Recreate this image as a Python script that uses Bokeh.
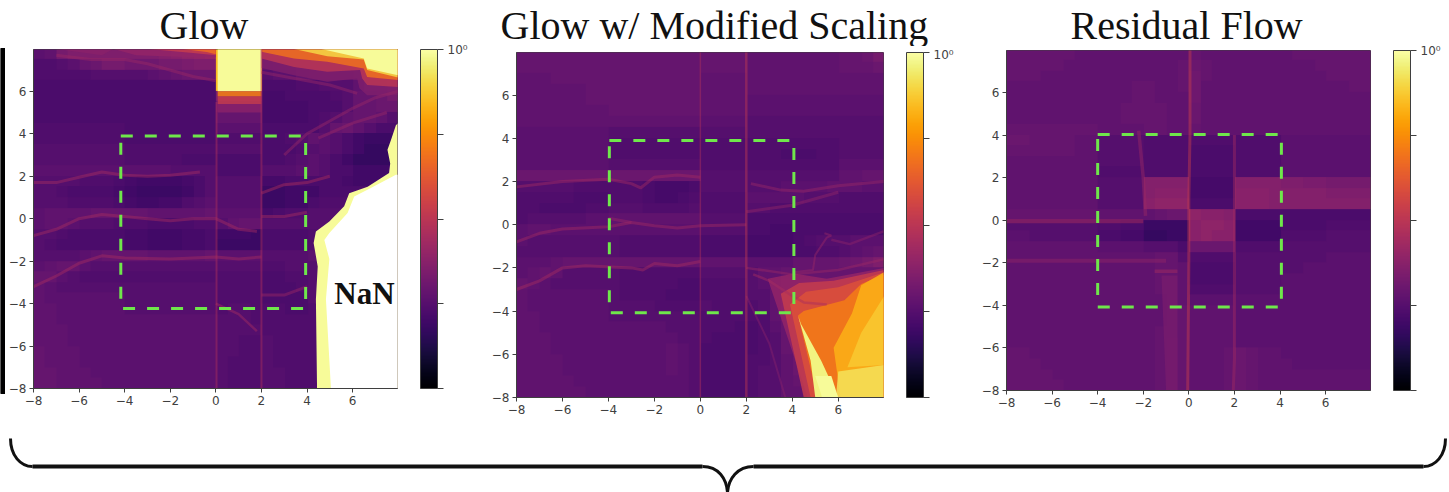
from bokeh.embed import file_html
from bokeh.resources import INLINE
from bokeh.plotting import figure
from bokeh.layouts import row, column
from bokeh.models import (ColorBar, ColumnDataSource, CustomJSTickFormatter, FixedTicker, LogColorMapper, Range1d)
from bokeh.palettes import Inferno256
from bokeh.core.properties import value
import numpy as np

TITLES = ["Glow", "Glow w/ Modified Scaling", "Residual Flow"]
TICKS = [-8, -6, -4, -2, 0, 2, 4, 6]
CB_TICKS = [1, 1e-2, 1e-4, 1e-6, 1e-8]

# Grids: rows top (y=8) to bottom (y=-8), 32 columns from x=-8 in steps of 0.5.
# Each number n means a density of 10^(-(n+2)/10).
GLOW = [
 [57,56,52,50,50,50,50,50,50,50,50,49,48,47,46,45,10,10,10,10,48,48,48,48,48,48,47,47,47,30,20,20],
 [59,59,58,57,55,54,52,52,53,53,53,52,52,51,50,50,10,10,10,10,55,54,53,52,52,52,50,50,50,40,30,30],
 [59,59,59,59,59,58,58,58,58,58,57,56,55,54,54,54,10,10,10,10,58,57,57,55,54,54,53,53,52,45,40,40],
 [60,60,60,60,60,60,60,60,60,60,60,60,60,60,60,60,10,10,10,10,60,60,60,59,59,58,58,58,56,52,52,50],
 [60,60,60,60,60,60,60,60,60,60,60,60,60,60,60,60,50,50,50,50,61,61,60,60,60,60,59,58,55,55,54,52],
 [60,60,60,60,60,60,60,60,60,60,60,60,60,60,60,60,53,53,53,53,61,61,61,61,60,60,60,58,55,55,54,54],
 [60,60,60,60,60,60,60,60,60,60,60,60,60,60,60,60,55,55,55,55,61,61,61,61,60,59,58,56,55,55,56,58],
 [59,59,59,59,59,59,59,59,60,60,60,60,60,60,60,60,57,57,57,57,60,60,60,60,60,58,55,54,56,58,60,60],
 [59,59,59,59,59,59,59,59,60,60,60,60,60,60,60,60,59,59,59,59,60,60,59,58,56,57,58,60,62,63,63,63],
 [58,58,58,58,58,58,58,58,59,59,59,59,59,59,59,59,58,58,58,58,60,60,60,59,58,57,58,60,62,64,64,64],
 [58,58,58,58,58,58,58,58,59,59,59,59,59,60,60,60,60,60,60,60,60,60,59,58,57,58,60,62,64,64,64,64],
 [57,57,57,57,57,57,57,57,57,57,57,57,58,58,58,58,60,60,60,60,58,58,58,57,57,58,60,60,62,62,62,62],
 [58,58,58,58,59,59,59,60,61,62,62,62,62,61,60,58,58,58,58,58,61,61,60,60,60,60,60,61,62,62,62,62],
 [58,58,59,60,60,60,60,61,62,63,63,63,63,62,60,58,58,58,58,58,63,63,62,62,62,60,60,60,60,60,60,60],
 [58,58,58,59,59,59,59,60,61,62,62,61,61,59,58,57,58,58,58,58,63,63,62,62,60,59,59,59,59,59,59,59],
 [57,56,56,56,56,55,55,55,55,55,56,56,56,56,56,55,57,57,57,57,61,60,59,59,58,58,58,58,58,58,58,58],
 [57,56,56,57,58,58,58,59,59,59,60,60,60,60,59,59,58,56,55,55,58,58,58,58,58,58,58,58,58,58,58,58],
 [58,58,59,60,60,60,60,60,61,61,62,62,62,61,61,60,62,62,62,63,60,60,60,60,59,59,59,59,59,59,59,59],
 [58,59,60,60,60,60,60,60,61,61,62,62,62,61,61,60,63,63,63,63,60,60,60,60,59,59,59,59,59,59,59,59],
 [58,58,58,58,57,56,55,55,55,55,56,56,56,56,56,55,57,57,57,57,58,58,58,58,57,57,57,57,57,57,57,57],
 [57,56,55,55,57,58,58,58,58,58,58,58,58,58,58,58,58,58,58,58,59,59,58,58,58,58,58,58,58,58,58,58],
 [55,55,57,58,59,59,59,59,59,59,59,59,59,59,59,59,59,59,59,59,60,60,59,59,58,58,58,58,58,58,58,58],
 [56,57,58,58,58,58,58,58,58,58,58,58,58,58,58,58,59,59,59,59,60,60,60,59,58,58,58,58,58,58,58,58],
 [56,57,57,57,57,57,57,57,58,58,58,58,58,58,58,58,59,59,59,59,60,60,60,60,58,58,58,58,58,58,58,58],
 [56,56,57,57,57,57,57,57,58,58,58,58,58,58,58,58,59,58,58,59,59,59,60,60,59,59,59,59,59,59,59,59],
 [56,56,57,57,57,57,57,57,57,57,57,57,57,57,57,57,58,58,58,59,59,59,59,59,59,59,59,59,59,59,59,59],
 [56,56,56,57,57,57,57,57,57,57,57,57,57,57,57,57,58,58,58,58,59,59,59,59,59,59,59,59,59,59,59,59],
 [56,56,56,57,57,57,57,57,57,57,57,57,57,57,57,57,58,58,59,59,58,59,59,59,59,59,59,59,59,59,59,59],
 [55,56,56,56,57,57,57,57,57,57,57,57,57,57,57,57,58,58,59,59,58,59,59,59,59,59,59,59,59,59,59,59],
 [55,56,56,56,57,57,57,57,57,57,57,57,57,57,57,57,58,59,59,59,58,59,59,59,59,59,59,59,59,59,59,59],
 [55,55,56,56,56,57,57,57,57,57,57,57,57,57,57,57,58,59,59,59,58,58,59,59,59,59,59,59,59,59,59,59],
 [55,55,56,56,56,56,57,57,57,57,57,57,57,57,57,57,58,59,59,59,58,58,59,59,59,59,59,59,59,59,59,59],
]
SCALED = [
 [55,55,55,55,55,55,55,55,55,55,55,55,55,55,55,55,55,55,55,55,56,56,56,56,56,56,56,56,55,55,54,52],
 [55,55,55,55,55,55,55,55,55,55,55,55,55,55,55,55,55,55,55,55,56,56,56,56,56,56,56,56,55,55,55,54],
 [56,56,56,55,55,55,55,55,55,55,55,55,55,55,55,55,56,56,56,56,56,56,56,56,56,56,56,56,56,56,56,56],
 [56,56,56,56,56,56,55,55,55,55,55,55,55,55,55,55,56,56,56,56,56,56,56,56,56,56,56,56,56,56,56,56],
 [56,56,56,56,56,56,55,55,55,55,55,55,55,55,55,55,56,56,56,56,57,57,57,57,57,57,57,57,57,57,57,57],
 [56,56,56,56,56,56,56,56,55,55,55,55,55,55,55,55,56,56,56,56,57,57,57,57,57,57,57,57,57,57,57,57],
 [56,56,56,56,56,56,56,56,56,56,56,56,56,56,56,56,57,57,57,57,58,58,58,58,58,58,58,58,58,58,58,58],
 [57,57,57,57,57,57,57,57,58,58,58,58,58,58,58,58,58,58,58,58,58,58,58,58,58,58,58,58,58,58,58,58],
 [57,57,57,57,57,57,57,57,59,59,59,59,59,59,59,59,59,59,59,59,59,59,59,59,59,59,59,59,58,58,58,58],
 [57,57,57,57,57,57,57,57,59,59,59,59,59,59,59,59,59,59,59,59,59,59,59,60,60,60,59,59,58,58,58,58],
 [57,57,57,57,57,57,57,57,58,58,58,58,58,58,58,58,59,59,59,59,59,59,59,59,59,59,59,59,57,57,57,57],
 [54,54,54,54,54,54,54,54,54,54,54,54,54,54,54,54,58,58,58,58,58,58,58,58,58,58,58,58,56,56,55,55],
 [58,58,58,58,58,59,59,59,59,59,59,60,61,61,61,60,58,58,58,58,58,58,58,57,57,57,57,56,56,56,57,57],
 [59,59,59,59,59,60,60,60,59,59,59,60,61,61,60,59,59,59,59,59,57,57,57,57,57,58,58,58,59,59,59,59],
 [59,59,60,60,60,60,59,59,58,58,58,59,59,59,59,58,59,59,59,59,58,58,59,59,59,59,59,59,59,59,59,59],
 [59,58,58,58,58,58,57,57,56,56,56,56,56,56,56,56,58,58,58,58,60,60,60,60,60,60,60,60,60,60,60,60],
 [57,56,56,57,57,57,57,57,57,57,57,57,57,57,57,57,58,58,58,58,60,60,61,61,60,60,60,60,60,60,60,60],
 [57,58,58,58,58,58,58,58,58,59,59,59,59,59,59,59,60,60,60,60,61,61,61,61,60,59,58,58,58,57,57,57],
 [58,58,58,58,58,58,58,58,58,59,59,59,59,59,59,59,60,60,60,60,61,61,61,61,60,60,59,59,58,57,56,55],
 [57,57,57,56,55,55,55,55,55,55,55,55,55,55,55,55,56,56,56,56,57,57,57,57,55,55,55,55,54,53,52,50],
 [57,56,55,56,58,58,58,58,58,59,59,59,59,59,59,59,58,58,58,58,58,56,56,55,55,55,55,55,55,55,55,55],
 [55,56,57,58,58,58,58,58,58,59,59,59,59,59,60,60,59,59,59,59,58,57,56,54,54,54,54,54,54,54,54,54],
 [56,57,57,57,57,57,57,57,58,59,59,59,59,60,60,60,59,59,59,59,58,58,56,54,54,54,54,54,54,54,54,54],
 [56,57,57,57,57,57,57,57,58,58,58,58,59,59,59,59,58,59,59,59,59,58,56,54,54,54,54,54,54,54,54,54],
 [56,56,57,57,57,57,57,57,58,58,58,58,58,58,58,58,59,59,59,59,59,59,56,54,54,54,54,54,54,54,54,54],
 [56,56,57,57,57,57,57,57,57,57,57,57,57,58,58,58,59,59,59,60,60,59,57,55,54,54,54,54,54,54,54,54],
 [56,56,56,57,57,57,57,57,57,57,57,57,57,57,58,58,59,60,60,60,60,59,58,55,54,54,54,54,54,54,54,54],
 [56,56,56,57,57,57,57,57,57,57,57,57,57,56,57,58,60,60,60,60,60,59,58,55,54,54,54,54,54,54,54,54],
 [56,56,56,56,57,57,57,57,57,57,57,57,57,56,57,58,60,60,60,60,59,59,58,56,54,54,54,54,54,54,54,54],
 [56,56,56,56,57,57,57,57,57,57,57,57,57,56,57,58,60,60,60,60,59,58,58,56,54,54,54,54,54,54,54,54],
 [56,56,56,56,56,57,57,57,57,57,57,57,57,57,57,58,60,60,60,60,59,58,58,56,55,54,54,54,54,54,54,54],
 [56,56,56,56,56,56,57,57,57,57,57,57,57,57,57,58,60,60,60,60,59,58,58,56,56,54,54,54,54,54,54,54],
]
RESIDUAL = [
 [55,55,55,55,55,55,56,56,56,56,56,56,56,56,56,56,55,56,56,56,56,56,56,56,56,55,55,55,55,55,55,55],
 [55,55,55,55,55,56,56,56,56,56,56,56,56,56,56,55,54,55,56,56,56,56,56,56,56,56,56,55,55,55,55,55],
 [55,55,55,56,56,56,56,56,56,56,56,56,56,56,56,55,53,55,56,56,56,56,56,56,56,56,56,56,55,55,55,55],
 [56,56,56,56,56,56,56,56,56,56,56,55,55,56,56,55,53,56,56,56,56,56,56,56,56,56,56,56,56,56,55,55],
 [56,56,56,56,56,56,56,56,56,56,56,55,55,56,56,56,53,56,56,56,56,56,56,56,56,56,56,56,56,56,56,56],
 [56,56,56,56,56,56,56,56,56,56,55,55,55,55,56,56,54,56,56,56,56,56,56,56,56,56,56,56,56,56,56,56],
 [56,56,56,56,56,56,56,56,56,56,55,55,55,55,56,56,54,56,56,56,56,56,56,56,56,56,56,56,56,56,56,56],
 [55,55,55,55,55,55,55,55,56,56,56,56,55,55,56,56,55,56,56,56,56,56,56,56,56,56,56,56,56,56,56,56],
 [54,54,55,55,55,55,56,56,58,58,58,58,59,59,59,59,59,59,59,59,59,59,59,59,57,57,57,57,57,57,57,57],
 [55,55,55,55,55,55,56,56,58,58,58,58,59,59,59,59,60,60,60,60,59,59,59,59,57,57,57,57,57,57,57,57],
 [56,56,56,56,56,56,56,56,58,58,58,58,59,59,59,59,60,60,60,60,59,59,59,59,57,57,57,57,57,57,57,57],
 [56,56,56,56,56,56,56,56,59,59,59,59,59,59,59,59,60,60,60,60,59,59,59,59,57,57,57,57,57,57,57,57],
 [56,56,56,56,56,56,56,56,58,58,58,58,49,49,49,49,61,61,61,61,49,49,49,49,50,50,51,51,52,52,52,52],
 [56,56,56,56,56,56,56,56,58,58,58,58,49,48,48,48,61,61,61,61,48,48,48,49,49,49,49,49,50,50,50,50],
 [56,56,56,56,56,56,56,56,58,58,58,58,48,47,47,47,60,60,60,60,48,48,48,49,49,49,49,49,49,49,49,49],
 [55,55,55,55,55,55,55,55,56,56,56,56,56,55,54,54,47,48,48,49,60,60,60,60,60,60,60,60,60,60,60,60],
 [58,58,58,58,58,58,58,58,59,59,60,60,63,63,63,63,48,47,47,48,62,62,62,62,60,60,60,60,59,59,59,59],
 [57,57,58,58,58,58,58,58,60,60,61,61,64,64,63,63,48,47,48,48,62,62,62,62,59,59,59,59,58,58,58,58],
 [56,56,56,56,56,56,56,56,57,57,57,57,58,58,58,60,54,54,54,54,59,59,59,59,58,58,58,58,58,58,58,58],
 [56,56,56,56,56,56,56,56,56,56,56,56,56,55,55,58,59,59,59,59,58,58,58,58,58,58,58,58,57,57,57,57],
 [56,56,56,56,56,56,56,56,56,56,56,56,56,55,55,56,60,60,60,60,58,58,58,58,58,58,57,57,57,57,57,57],
 [56,56,56,56,56,56,56,56,56,56,56,56,56,55,55,56,60,60,60,60,58,58,58,58,57,57,57,57,57,57,57,57],
 [56,56,56,56,56,56,56,56,56,56,56,56,56,55,55,56,59,59,59,59,58,58,58,58,57,57,57,57,57,57,57,57],
 [56,56,56,56,56,56,56,56,56,56,56,56,56,56,55,56,57,57,57,57,57,57,57,57,57,57,57,57,57,57,57,57],
 [56,56,56,56,56,56,56,56,56,56,56,56,56,56,55,55,56,56,56,56,57,57,57,57,57,57,57,57,57,57,57,57],
 [56,56,56,56,56,56,56,56,56,56,56,56,56,56,55,55,56,56,56,56,57,57,57,57,57,57,57,57,57,57,57,57],
 [56,56,56,56,56,56,56,56,56,56,56,56,56,55,55,55,56,56,56,56,57,57,57,57,57,57,57,57,57,57,57,57],
 [56,56,56,56,56,56,56,56,56,56,56,56,56,55,54,55,56,56,56,56,57,57,57,57,57,57,57,57,57,57,57,57],
 [55,55,56,56,56,56,56,56,56,56,56,56,56,55,54,55,56,56,56,55,54,55,56,56,57,57,57,57,57,57,57,57],
 [55,55,55,56,56,56,56,56,56,56,56,56,56,55,54,55,56,56,56,55,54,55,56,56,56,57,57,57,57,57,57,57],
 [55,55,55,55,56,56,56,56,56,56,56,56,56,55,54,55,56,56,56,55,54,55,56,56,56,56,56,56,56,56,56,56],
 [55,55,55,55,55,56,56,56,56,56,56,56,56,55,54,55,56,56,56,55,54,55,56,56,56,56,56,56,56,56,56,56],
]

# Bright regions, painted in order. Each level n means a density of 10^(-n/10).
GLOW_PATCH_LEVELS = [52, 40, 25, 8, 1, 48, 38, 26, 50, 1, 22, 38, 50, 1]
GLOW_PATCH_X = [
 [2, 2, 3.43, 4.89, 6.2, 6.3, 6.64, 8, 8],
 [2, 2, 3.43, 4.89, 6.33, 6.42, 6.64, 8, 8],
 [2, 2, 3.43, 4.89, 6.49, 6.64, 8, 8],
 [3.4, 4.89, 6.49, 6.64, 8, 8],
 [4.6, 6.49, 6.64, 8, 8],
 [-4.5, -3.5, -1, 0, 0], [-3, -1, 0, 0], [-1.5, -0.4, 0, 0], [-7, -5, -4.5],
 [0.08, 0.08, 2, 2], [0.08, 0.08, 2, 2], [0.08, 0.08, 2, 2], [0.08, 0.08, 2, 2],
 [4.44, 4.39, 4.47, 4.29, 4.39, 4.98, 5.63, 5.85, 6.66, 7.6, 7.65, 7.53, 7.68, 7.9, 8, 8],
]
GLOW_PATCH_Y = [
 [8, 7.1, 6.76, 6.45, 6.6, 6.15, 5.82, 5.82, 8],
 [8, 7.55, 7.15, 6.92, 7.0, 6.6, 6.3, 6.2, 8],
 [8, 7.86, 7.55, 7.39, 7.08, 6.68, 6.53, 8],
 [8, 7.65, 7.5, 7.0, 6.65, 8],
 [8, 7.55, 7.08, 6.76, 8],
 [8, 7.7, 7.6, 7.6, 8], [8, 7.8, 7.7, 8], [8, 7.85, 7.75, 8], [8, 7.7, 8],
 [8, 6, 6, 8], [6, 5.75, 5.75, 6], [5.75, 5.4, 5.4, 5.75], [5.4, 5.0, 5.0, 5.4],
 [-8, -3.8, -2.25, -1.15, -0.6, -0.13, 0.58, 1.2, 1.5, 2.15, 2.6, 3.25, 3.7, 4.4, 4.5, -8],
]
GLOW_NAN_X = [5.05, 4.83, 4.98, 4.76, 4.98, 5.78, 6.07, 6.8, 7.9, 8, 8]
GLOW_NAN_Y = [-8, -3.8, -1.9, -1, -0.67, 0.27, 1.05, 1.45, 2.07, 2.07, -8]

SCALED_PATCH_LEVELS = [48, 38, 32, 23, 14, 10, 6, 3, 1]
SCALED_PATCH_X = [
 [2.93, 4.08, 5.5, 8, 8, 4.68],
 [3.5, 4.3, 5.8, 8, 8, 4.5],
 [3.9, 4.6, 6, 8, 8, 4.8],
 [4.25, 4.5, 6.27, 7.0, 8, 8, 5.1],
 [7, 8, 8, 6.1, 5.8, 6.6],
 [7, 8, 8, 6.4],
 [6.0, 8, 8, 5.9],
 [4.38, 5.26, 6, 5, 4.8, 4.25],
 [5.0, 5.7, 6.0, 5.3],
]
SCALED_PATCH_Y = [
 [-2.5, -2.26, -2.5, -2.0, -8, -8],
 [-3.2, -2.7, -2.6, -2.1, -8, -8],
 [-3.7, -3.1, -2.9, -2.2, -8, -8],
 [-4.2, -4.0, -3.5, -2.75, -2.3, -8, -8],
 [-2.8, -2.2, -8, -8, -5.7, -4.1],
 [-5, -3.3, -6.5, -6.6],
 [-6.8, -6.5, -8, -8],
 [-4.6, -6.3, -8, -8, -6.3, -4.2],
 [-7, -7, -8, -8],
]

RESIDUAL_PATCH_LEVELS = [54]
RESIDUAL_PATCH_X = [[-1.2, -0.5, -0.5, -1.0]]
RESIDUAL_PATCH_Y = [[-2.6, -2.6, -8, -8]]

# Thin ridges: polyline vertices, with level and pixel width.
GLOW_CURVE_X = [
 [-8, -7, -6, -5, -4, -3, -2, -0.7], [2, 3, 4, 5], [-8, -7, -6, -5, -4, -3, -2, -1, 0, 1, 1.8], [2, 3, 4],
 [-8, -7, -6, -5, -4, -2, 0, 1, 2], [0, 1, 1.8], [2, 3, 4], [-7, -5.5, -4, -3, -1, 0], [2, 3, 5, 6.2],
 [3, 4, 5, 6, 7, 8], [4.5, 6, 7.5], [0.03, 0.03], [2, 2],
]
GLOW_CURVE_Y = [
 [1.7, 1.7, 1.95, 2.2, 2.05, 2.0, 2.05, 2.2], [1.2, 1.6, 1.7, 2.0], [-0.8, -0.5, 0, 0.2, 0.1, 0, -0.1, 0, 0, -0.5, -0.6], [0.1, 0.1, 0.3],
 [-3.2, -2.7, -2.1, -1.75, -1.85, -1.9, -1.8, -1.9, -1.8], [-4, -4.5, -5.3], [-3.6, -3.6, -3.2], [7.7, 7.5, 7.5, 7.3, 6.7, 6.5], [6.9, 6.7, 6.3, 5.9],
 [3, 4, 4.6, 5.2, 5.7, 6], [3.8, 4.5, 5], [5.5, -8], [8, -8],
]
GLOW_CURVE_LEVELS = [44, 43, 44, 44, 44, 44, 46, 46, 47, 47, 47, 42, 42]
GLOW_CURVE_WIDTHS = [3, 3, 3, 3, 3, 2.5, 3, 3, 3, 3, 3, 2, 2]

SCALED_CURVE_X = [
 [-8, -6, -4, -3, -2.6, -2, -1, 0], [2.2, 3.5, 4.5, 6, 8], [2, 4, 6],
 [-8, -7, -6, -4, -3, -2, -1, 0, 2], [-4, -3],
 [-8, -7, -6, -5, -3, -2.5, -2, -1, 0], [2.3, 3, 4, 4.5, 5.5], [4, 4.9, 5, 5.5, 5.7, 5.4],
 [2, 4, 6, 8], [5.7, 6.5, 8], [2, 3, 3.7], [0, 0], [2, 2],
]
SCALED_CURVE_Y = [
 [1.75, 2, 2.1, 1.9, 1.7, 2.2, 2.3, 2.2], [1.9, 1.6, 1.55, 1.8, 2], [0.6, 0.9, 1.5],
 [-0.8, -0.4, -0.2, -0.1, 0.1, -0.05, -0.15, -0.05, 0], [0.3, 0.1],
 [-3, -2.6, -2, -1.9, -2, -2.1, -1.8, -1.9, -1.7], [-2.3, -2.6, -3.3, -3.6, -3.7], [-2.2, -2.1, -1.4, -0.6, -0.5, -0.4],
 [-2, -2.3, -2.1, -1.6], [-0.7, -0.9, -0.3], [-3.3, -5.5, -8], [8, -8], [8, -8],
]
SCALED_CURVE_LEVELS = [45, 47, 48, 45, 47, 44, 44, 47, 46, 49, 50, 43, 39]
SCALED_CURVE_WIDTHS = [3, 3, 3, 3, 3, 3, 2.5, 2, 2.5, 2.5, 2, 1.5, 2.5]

RESIDUAL_CURVE_X = [
 [-8, -2], [0.05, 0.05, 0, 0, -0.05], [2, 2, 2, 2, 1.95], [-2.2, -2, -1.9], [-8, -4, -1], [-1.5, -0.5],
]
RESIDUAL_CURVE_Y = [
 [-0.05, -0.05], [8, 4, 1, -2, -8], [4, 0, -4, -6.5, -8], [4.2, 2, 0.2], [-1.9, -1.9, -1.9], [-2.4, -2.4],
]
RESIDUAL_CURVE_LEVELS = [43, 37, 45, 46, 48, 44]
RESIDUAL_CURVE_WIDTHS = [4, 3, 3, 3.5, 4, 3.5]

# Dashed boxes: left, right, bottom, top.
BOX_GLOW = [-4.17, 3.94, -4.23, 3.9]
BOX_SCALED = [-3.96, 4.07, -4.08, 3.9]
BOX_RESIDUAL = [-4.0, 4.06, -4.08, 4.03]

NAN_LABEL = "NaN"
BRACE_SEG_X0 = [32, 753]
BRACE_SEG_X1 = [702, 1423]
BRACE_SEG_Y = [466, 466]
BRACE_X0 = [10, 702, 753, 1445]
BRACE_Y0 = [438, 466, 466, 438]
BRACE_X1 = [32, 727, 727, 1423]
BRACE_Y1 = [466, 492, 492, 466]
BRACE_CX0 = [10, 718, 737, 1445]
BRACE_CY0 = [455, 466, 466, 455]
BRACE_CX1 = [20, 726, 728, 1435]
BRACE_CY1 = [466, 478, 478, 466]

mapper = LogColorMapper(palette=Inferno256, low=1e-8, high=1, nan_color=(0, 0, 0, 0))
MINUS = {t: str(t).replace("-", "\u2212") for t in TICKS}
GREEN = "#6fe74b"
INK = "#3f3f3f"
SUPER = CustomJSTickFormatter(code="""
    const e = Math.round(Math.log10(tick));
    const s = {0: '\u2070', 2: '\u00b2', 4: '\u2074', 6: '\u2076', 8: '\u2078'};
    return '10' + (e < 0 ? '\u207b' : '') + s[Math.abs(e)];
""")


def dens(levels):
    return [10 ** (-n / 10) for n in levels]


def title_strip(title, width, height, x):
    s = figure(width=width, height=height, x_range=Range1d(0, width), y_range=Range1d(height, 0), output_backend="svg",
               toolbar_location=None, min_border=0, outline_line_color=None)
    s.axis.visible = False
    s.grid.visible = False
    s.text(x=[x], y=[37], y_offset=-12, text=[title], text_font=value("Liberation Serif"), text_font_size="40px",
           text_color="#111111", text_baseline="alphabetic")
    return s


def panel(grid, px, py, plev, cx, cy, clev, cw, box, width, height, left, right, top, bottom, cb_h):
    p = figure(width=width, height=height, x_range=Range1d(-8, 7.97), y_range=Range1d(-8, 7.97),
               output_backend="svg", toolbar_location=None, min_border_left=left, min_border_right=right,
               min_border_top=top, min_border_bottom=bottom, background_fill_color="white")
    p.grid.visible = False
    img = 10.0 ** (-(np.array(grid[::-1], dtype=float) + 2) / 10)
    p.image(image=[img], x=-8, y=-8, dw=16, dh=16, color_mapper=mapper)
    src = ColumnDataSource(dict(xs=px, ys=py, v=dens(plev), a=[1.0 if n < 5 else 0.85 for n in plev]))
    p.patches("xs", "ys", source=src, fill_color={"field": "v", "transform": mapper}, fill_alpha="a", line_color=None)
    lines = ColumnDataSource(dict(xs=cx, ys=cy, v=dens(clev), w=cw))
    p.multi_line("xs", "ys", source=lines, line_color={"field": "v", "transform": mapper}, line_width="w", line_alpha=0.45)
    l, r, b, t = box
    p.line([l, r, r, l, l], [t, t, b, b, t], line_color=GREEN, line_width=3, line_dash="12 12")
    for ax in (p.xaxis[0], p.yaxis[0]):
        ax.ticker = FixedTicker(ticks=TICKS)
        ax.major_label_overrides = MINUS
        ax.major_label_text_font = "DejaVu Sans"
        ax.major_label_text_font_size = "12px"
        ax.major_label_text_color = INK
        ax.axis_line_color = INK
        ax.major_tick_line_color = INK
        ax.major_tick_in = 0
        ax.major_tick_out = 4
        ax.minor_tick_line_color = None
        ax.major_label_standoff = 3
    p.outline_line_color = INK
    cb = ColorBar(color_mapper=mapper, ticker=FixedTicker(ticks=CB_TICKS), formatter=SUPER,
                  width=17, height=cb_h, padding=0, margin=0, location=(23, 0),
                  major_label_text_font="DejaVu Sans", major_label_text_font_size="12px", major_label_text_color=INK,
                  major_tick_in=0, major_tick_out=6, major_tick_line_color=INK, minor_tick_line_color=None,
                  bar_line_color=INK, border_line_color=None, background_fill_alpha=0, label_standoff=4)
    p.add_layout(cb, "right")
    return p


bar = figure(width=5, height=420, x_range=Range1d(0, 5), y_range=Range1d(420, 0), output_backend="svg",
             toolbar_location=None, min_border=0, outline_line_color=None)
bar.axis.visible = False
bar.grid.visible = False
bar.quad(left=[0], right=[5], top=[48], bottom=[393], color="black")

p1 = panel(GLOW, GLOW_PATCH_X, GLOW_PATCH_Y, GLOW_PATCH_LEVELS, GLOW_CURVE_X, GLOW_CURVE_Y,
           GLOW_CURVE_LEVELS, GLOW_CURVE_WIDTHS, BOX_GLOW, 475, 380, 27, 83, 9, 32, 339)
nan_src = ColumnDataSource(dict(xs=[GLOW_NAN_X], ys=[GLOW_NAN_Y]))
p1.patches("xs", "ys", source=nan_src, fill_color="white", line_color=None)
p1.text(x=[5.2], y=[-4.0], y_offset=-10, text=[NAN_LABEL], text_font=value("Liberation Serif"), text_font_size="31px",
        text_font_style="bold", text_color="#111111", text_baseline="alphabetic")

p2 = panel(SCALED, SCALED_PATCH_X, SCALED_PATCH_Y, SCALED_PATCH_LEVELS, SCALED_CURVE_X, SCALED_CURVE_Y,
           SCALED_CURVE_LEVELS, SCALED_CURVE_WIDTHS, BOX_SCALED, 490, 374, 36, 87, 6, 23, 345)
p3 = panel(RESIDUAL, RESIDUAL_PATCH_X, RESIDUAL_PATCH_Y, RESIDUAL_PATCH_LEVELS, RESIDUAL_CURVE_X, RESIDUAL_CURVE_Y,
           RESIDUAL_CURVE_LEVELS, RESIDUAL_CURVE_WIDTHS, BOX_RESIDUAL, 479, 380, 36, 75, 10, 30, 340)

c1 = column(column(title_strip(TITLES[0], 475, 40, 154)), column(p1), spacing=0)
c2 = column(column(title_strip(TITLES[1], 490, 46, 20)), column(p2), spacing=0)
c3 = column(column(title_strip(TITLES[2], 479, 40, 100)), column(p3), spacing=0)

brace = figure(width=1449, height=72, x_range=Range1d(0, 1449), y_range=Range1d(492, 420), output_backend="svg",
               toolbar_location=None, min_border=0, outline_line_color=None)
brace.axis.visible = False
brace.grid.visible = False
brace.segment(BRACE_SEG_X0, BRACE_SEG_Y, BRACE_SEG_X1, BRACE_SEG_Y, line_color="#111111", line_width=4)
brace.bezier(BRACE_X0, BRACE_Y0, BRACE_X1, BRACE_Y1, BRACE_CX0, BRACE_CY0, BRACE_CX1, BRACE_CY1,
             line_color="#111111", line_width=3)

page = column(row(column(bar), c1, c2, c3, spacing=0), column(brace), spacing=0)
open("out.html", "w").write(file_html(page, INLINE))
